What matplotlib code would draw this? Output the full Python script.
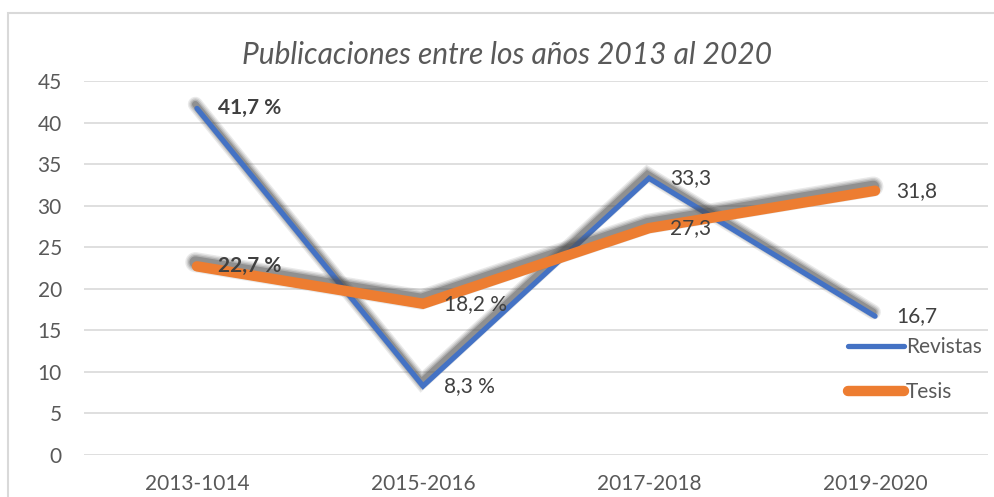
import matplotlib.pyplot as plt
import matplotlib.patheffects as pe
from matplotlib.patches import Rectangle

periods = ["2013-1014", "2015-2016", "2017-2018", "2019-2020"]
revistas = [41.7, 8.3, 33.3, 16.7]
tesis = [22.7, 18.2, 27.3, 31.8]
revistas_labels = ["41,7 %", "8,3 %", "33,3", "16,7"]
tesis_labels = ["22,7 %", "18,2 %", "27,3", "31,8"]
bold_labels = {"41,7 %", "22,7 %"}

plt.rcParams['font.family'] = ['Lato', 'DejaVu Sans']

fig = plt.figure(figsize=(9.95, 4.97), dpi=100)
ax = fig.add_axes([0.0844, 0.0845, 0.9086, 0.7525])

# soft drop shadow, built from a few widening gray strokes
def shadow(lw):
    effects = []
    for extra, a in [(7, 0.12), (5, 0.16), (3, 0.22), (1, 0.35)]:
        effects.append(pe.SimpleLineShadow(offset=(-1.2, 3), shadow_color='#505050',
                                           alpha=a, linewidth=lw + extra))
    effects.append(pe.Normal())
    return effects

x = range(len(periods))
ax.plot(x, revistas, color='#4472C4', lw=3.8, solid_capstyle='round',
        solid_joinstyle='miter', label='Revistas', path_effects=shadow(3.8), zorder=3)
ax.plot(x, tesis, color='#ED7D31', lw=7.5, solid_capstyle='round',
        solid_joinstyle='miter', label='Tesis', path_effects=shadow(7.5), zorder=4)

for vals, labels in [(revistas, revistas_labels), (tesis, tesis_labels)]:
    for i, (v, lab) in enumerate(zip(vals, labels)):
        ax.annotate(lab, (i, v), xytext=(15, 0), textcoords='offset points',
                    ha='left', va='center', fontsize=15, color='#404040',
                    fontweight='bold' if lab in bold_labels else 'normal', zorder=6)

ax.set_xlim(-0.5, 3.5)
ax.set_ylim(0, 45)
ax.set_yticks(range(0, 46, 5))
ax.set_xticks(list(x))
ax.set_xticklabels(periods)
ax.yaxis.grid(True, color='#D9D9D9', lw=1.2)
ax.set_axisbelow(True)
for s in ax.spines.values():
    s.set_visible(False)
ax.tick_params(axis='both', length=0, labelsize=15, colors='#595959')
ax.tick_params(axis='y', pad=16)
ax.tick_params(axis='x', pad=14)

fig.text(0.51, 0.89, "Publicaciones entre los años 2013 al 2020", ha='center', va='center',
         fontsize=21.5, style='italic', color='#595959')

leg = ax.legend(loc='upper left', bbox_to_anchor=(0.845, 0.315), frameon=False,
                handlelength=2.7, handletextpad=0.1, labelspacing=1.2, fontsize=15,
                borderpad=0, borderaxespad=0)
for t in leg.get_texts():
    t.set_color('#595959')
for h in leg.get_lines():
    h.set_path_effects([])
    h.set_solid_capstyle('round')

fig.patches.append(Rectangle((8 / 995, -0.01), 1.0, 1 - 13 / 497 + 0.01, transform=fig.transFigure,
                             fill=False, edgecolor='#D9D9D9', lw=1.5))

fig.savefig('out.png', dpi=100)
